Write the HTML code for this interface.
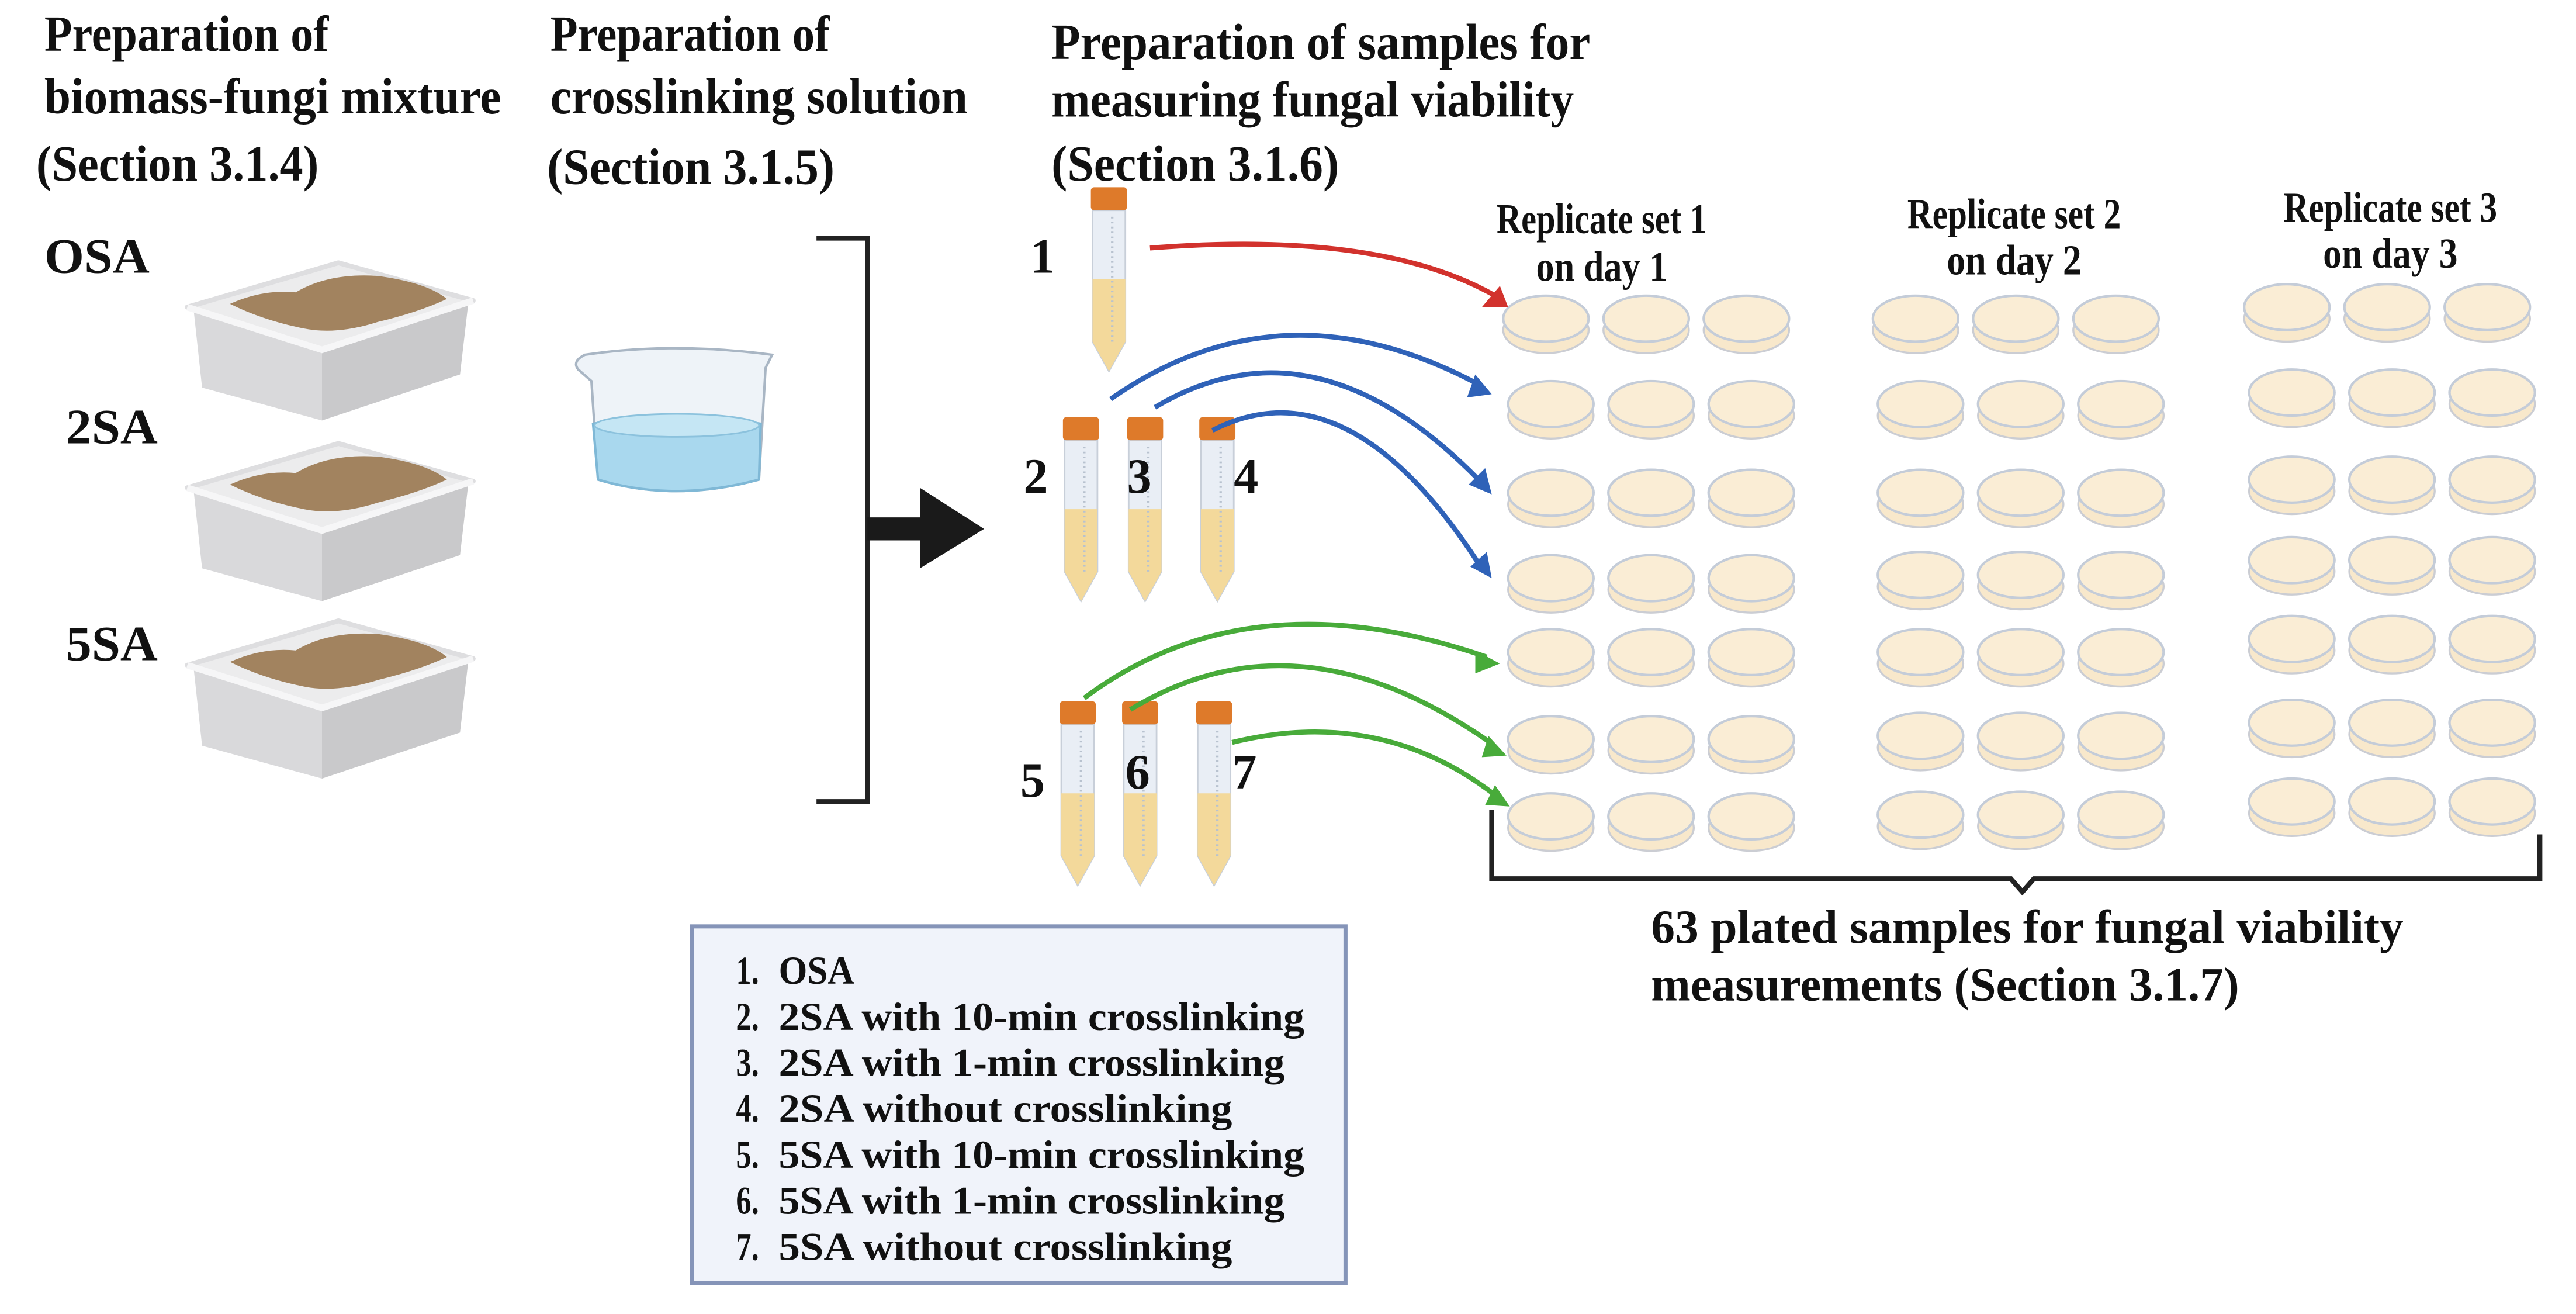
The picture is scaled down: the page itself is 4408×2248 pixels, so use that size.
<!DOCTYPE html>
<html><head><meta charset="utf-8"><style>
html,body{margin:0;padding:0;background:#fff;}
svg{display:block;}
text{font-family:"Liberation Serif",serif;font-weight:bold;fill:#111;}
</style></head><body>
<svg width="4408" height="2248" viewBox="0 0 1568 800" preserveAspectRatio="none" xmlns="http://www.w3.org/2000/svg">
<defs>
<g id="box">
  <path d="M118,190 L123,236 L196,256 L196,214 Z" fill="#d9d9db"/>
  <path d="M196,214 L196,256 L280,228 L285,185 Z" fill="#c9c9cb"/>
  <path d="M114,187 L206,160 L288,183 L196,213 Z" fill="#ececed" stroke="#dedee0" stroke-width="3" stroke-linejoin="round"/>
  <path d="M140,185 Q160,176 180,178 Q200,166 230,168 Q260,172 272,182 Q255,190 230,196 Q205,204 185,200 Q160,195 140,185 Z" fill="#a2835f"/>
  <path d="M114,187 L196,213 L288,183" fill="none" stroke="#f6f6f7" stroke-width="4"/>
</g>
<g id="tube">
  <path d="M-10,0 L10,0 L10,80 L0,98 L-10,80 Z" fill="#e9eef5" stroke="#c8cfd9" stroke-width="1"/>
  <path d="M-10,42 L10,42 L10,80 L0,98 L-10,80 Z" fill="#f3d99b"/>
  <line x1="2" y1="4" x2="2" y2="80" stroke="#b8c2cf" stroke-width="1.5" stroke-dasharray="1 2"/>
  <rect x="-11" y="-14" width="22" height="14" rx="2" fill="#de7a2a"/>
</g>
<g id="plate">
  <ellipse cx="0" cy="5" rx="26" ry="14" fill="#f8e8cb" stroke="#cbcdd3" stroke-width="1.2"/>
  <ellipse cx="0" cy="-2" rx="26" ry="14" fill="#faedd5" stroke="#c4ccd8" stroke-width="1.5"/>
</g>
</defs>

<!-- titles -->
<text x="27" y="31" font-size="31" textLength="173" lengthAdjust="spacingAndGlyphs">Preparation of</text>
<text x="27" y="69" font-size="31" textLength="278" lengthAdjust="spacingAndGlyphs">biomass-fungi mixture</text>
<text x="22" y="110" font-size="31" textLength="172" lengthAdjust="spacingAndGlyphs">(Section 3.1.4)</text>
<text x="335" y="31" font-size="31" textLength="170" lengthAdjust="spacingAndGlyphs">Preparation of</text>
<text x="335" y="69" font-size="31" textLength="254" lengthAdjust="spacingAndGlyphs">crosslinking solution</text>
<text x="333" y="112" font-size="31" textLength="175" lengthAdjust="spacingAndGlyphs">(Section 3.1.5)</text>
<text x="640" y="36" font-size="31" textLength="328" lengthAdjust="spacingAndGlyphs">Preparation of samples for</text>
<text x="640" y="71" font-size="31" textLength="318" lengthAdjust="spacingAndGlyphs">measuring fungal viability</text>
<text x="640" y="110" font-size="31" textLength="175" lengthAdjust="spacingAndGlyphs">(Section 3.1.6)</text>

<text x="27" y="166" font-size="30" textLength="64" lengthAdjust="spacingAndGlyphs">OSA</text>
<text x="40" y="270" font-size="30" textLength="56" lengthAdjust="spacingAndGlyphs">2SA</text>
<text x="40" y="402" font-size="30" textLength="56" lengthAdjust="spacingAndGlyphs">5SA</text>

<use href="#box"/>
<use href="#box" y="110"/>
<use href="#box" y="218"/>

<!-- beaker -->
<path d="M352,225 Q348,220 356,216 Q410,208 470,216 L466,224 L462,292 Q410,306 364,292 L360,232 Z" fill="#eef3f8" stroke="#a9b6c4" stroke-width="1.5"/>
<path d="M361,258 Q412,250 463,258 L462,292 Q410,306 364,292 Z" fill="#a9d8ee" stroke="#7fb8d6" stroke-width="1.5"/>
<ellipse cx="412" cy="259" rx="50" ry="7" fill="#c5e6f4" stroke="#8cc2dd" stroke-width="1"/>

<!-- bracket and arrow -->
<path d="M497,145 L528,145 L528,488 L497,488" fill="none" stroke="#222" stroke-width="3"/>
<rect x="528" y="315" width="34" height="14" fill="#1a1a1a"/>
<path d="M560,297 L599,322 L560,346 Z" fill="#1a1a1a"/>

<!-- tubes -->
<use href="#tube" x="675" y="128"/>
<use href="#tube" x="658" y="268"/>
<use href="#tube" x="697" y="268"/>
<use href="#tube" x="741" y="268"/>
<use href="#tube" x="656" y="441"/>
<use href="#tube" x="694" y="441"/>
<use href="#tube" x="739" y="441"/>
<g font-size="30">
<text x="627" y="166">1</text>
<text x="623" y="300">2</text>
<text x="686" y="300">3</text>
<text x="751" y="300">4</text>
<text x="621" y="485">5</text>
<text x="685" y="480">6</text>
<text x="750" y="480">7</text>
</g>

<!-- plates -->
<use href="#plate" x="941" y="196"/><use href="#plate" x="1002" y="196"/><use href="#plate" x="1063" y="196"/>
<use href="#plate" x="944" y="248"/><use href="#plate" x="1005" y="248"/><use href="#plate" x="1066" y="248"/>
<use href="#plate" x="944" y="302"/><use href="#plate" x="1005" y="302"/><use href="#plate" x="1066" y="302"/>
<use href="#plate" x="944" y="354"/><use href="#plate" x="1005" y="354"/><use href="#plate" x="1066" y="354"/>
<use href="#plate" x="944" y="399"/><use href="#plate" x="1005" y="399"/><use href="#plate" x="1066" y="399"/>
<use href="#plate" x="944" y="452"/><use href="#plate" x="1005" y="452"/><use href="#plate" x="1066" y="452"/>
<use href="#plate" x="944" y="499"/><use href="#plate" x="1005" y="499"/><use href="#plate" x="1066" y="499"/>

<use href="#plate" x="1166" y="196"/><use href="#plate" x="1227" y="196"/><use href="#plate" x="1288" y="196"/>
<use href="#plate" x="1169" y="248"/><use href="#plate" x="1230" y="248"/><use href="#plate" x="1291" y="248"/>
<use href="#plate" x="1169" y="302"/><use href="#plate" x="1230" y="302"/><use href="#plate" x="1291" y="302"/>
<use href="#plate" x="1169" y="352"/><use href="#plate" x="1230" y="352"/><use href="#plate" x="1291" y="352"/>
<use href="#plate" x="1169" y="399"/><use href="#plate" x="1230" y="399"/><use href="#plate" x="1291" y="399"/>
<use href="#plate" x="1169" y="450"/><use href="#plate" x="1230" y="450"/><use href="#plate" x="1291" y="450"/>
<use href="#plate" x="1169" y="498"/><use href="#plate" x="1230" y="498"/><use href="#plate" x="1291" y="498"/>

<use href="#plate" x="1392" y="189"/><use href="#plate" x="1453" y="189"/><use href="#plate" x="1514" y="189"/>
<use href="#plate" x="1395" y="241"/><use href="#plate" x="1456" y="241"/><use href="#plate" x="1517" y="241"/>
<use href="#plate" x="1395" y="294"/><use href="#plate" x="1456" y="294"/><use href="#plate" x="1517" y="294"/>
<use href="#plate" x="1395" y="343"/><use href="#plate" x="1456" y="343"/><use href="#plate" x="1517" y="343"/>
<use href="#plate" x="1395" y="391"/><use href="#plate" x="1456" y="391"/><use href="#plate" x="1517" y="391"/>
<use href="#plate" x="1395" y="442"/><use href="#plate" x="1456" y="442"/><use href="#plate" x="1517" y="442"/>
<use href="#plate" x="1395" y="490"/><use href="#plate" x="1456" y="490"/><use href="#plate" x="1517" y="490"/>

<!-- replicate labels -->
<g font-size="26" text-anchor="middle">
<text x="975" y="142" textLength="128" lengthAdjust="spacingAndGlyphs">Replicate set 1</text>
<text x="975" y="171" textLength="80" lengthAdjust="spacingAndGlyphs">on day 1</text>
<text x="1226" y="139" textLength="130" lengthAdjust="spacingAndGlyphs">Replicate set 2</text>
<text x="1226" y="167" textLength="82" lengthAdjust="spacingAndGlyphs">on day 2</text>
<text x="1455" y="135" textLength="130" lengthAdjust="spacingAndGlyphs">Replicate set 3</text>
<text x="1455" y="163" textLength="82" lengthAdjust="spacingAndGlyphs">on day 3</text>
</g>

<!-- connector arrows -->
<g fill="none" stroke-width="3">
<path d="M700,151 Q840,140 910,180" stroke="#d2322d"/>
<path d="M676,243 Q780,170 900,234" stroke="#2f62b8"/>
<path d="M703,248 Q800,190 900,292" stroke="#2f62b8"/>
<path d="M738,262 Q820,220 900,343" stroke="#2f62b8"/>
<path d="M660,425 Q760,350 905,400" stroke="#48ab3a"/>
<path d="M688,432 Q790,370 907,452" stroke="#48ab3a"/>
<path d="M750,452 Q840,430 910,484" stroke="#48ab3a"/>
</g>
<path d="M918,187 L902,187 L913,174 Z" fill="#d2322d"/>
<path d="M908,240 L893,242 L898,228 Z" fill="#2f62b8"/>
<path d="M908,301 L894,295 L904,285 Z" fill="#2f62b8"/>
<path d="M908,352 L895,345 L905,336 Z" fill="#2f62b8"/>
<path d="M913,404 L898,410 L898,396 Z" fill="#48ab3a"/>
<path d="M917,460 L902,461 L906,448 Z" fill="#48ab3a"/>
<path d="M919,491 L904,490 L910,478 Z" fill="#48ab3a"/>

<!-- bottom bracket -->
<path d="M908,493 L908,535 L1224,535 L1231,543 L1238,535 L1546,535 L1546,508" fill="none" stroke="#222" stroke-width="3"/>
<text x="1005" y="574" font-size="29" textLength="458" lengthAdjust="spacingAndGlyphs">63 plated samples for fungal viability</text>
<text x="1005" y="609" font-size="29" textLength="358" lengthAdjust="spacingAndGlyphs">measurements (Section 3.1.7)</text>

<!-- legend -->
<rect x="421" y="564" width="398" height="217" fill="#f0f3fa" stroke="#8594b8" stroke-width="2.5"/>
<g font-size="24">
<text x="448" y="599" textLength="14" lengthAdjust="spacingAndGlyphs">1.</text><text x="474" y="599" textLength="46" lengthAdjust="spacingAndGlyphs">OSA</text>
<text x="448" y="627" textLength="14" lengthAdjust="spacingAndGlyphs">2.</text><text x="474" y="627" textLength="320" lengthAdjust="spacingAndGlyphs">2SA with 10-min crosslinking</text>
<text x="448" y="655" textLength="14" lengthAdjust="spacingAndGlyphs">3.</text><text x="474" y="655" textLength="308" lengthAdjust="spacingAndGlyphs">2SA with 1-min crosslinking</text>
<text x="448" y="683" textLength="14" lengthAdjust="spacingAndGlyphs">4.</text><text x="474" y="683" textLength="276" lengthAdjust="spacingAndGlyphs">2SA without crosslinking</text>
<text x="448" y="711" textLength="14" lengthAdjust="spacingAndGlyphs">5.</text><text x="474" y="711" textLength="320" lengthAdjust="spacingAndGlyphs">5SA with 10-min crosslinking</text>
<text x="448" y="739" textLength="14" lengthAdjust="spacingAndGlyphs">6.</text><text x="474" y="739" textLength="308" lengthAdjust="spacingAndGlyphs">5SA with 1-min crosslinking</text>
<text x="448" y="767" textLength="14" lengthAdjust="spacingAndGlyphs">7.</text><text x="474" y="767" textLength="276" lengthAdjust="spacingAndGlyphs">5SA without crosslinking</text>
</g>
</svg>
</body></html>
